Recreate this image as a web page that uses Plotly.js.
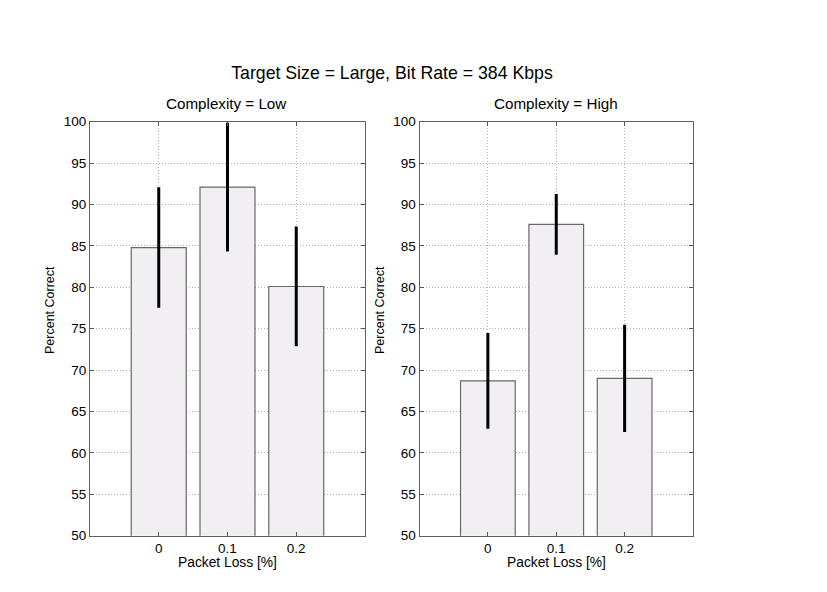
<!DOCTYPE html>
<html>
<head>
<meta charset="utf-8">
<script src="https://cdn.plot.ly/plotly-3.0.1.min.js"></script>
<style>
  html, body { margin: 0; padding: 0; background: #ffffff; }
  #chart { width: 827px; height: 592px; }
</style>
</head>
<body>
<div id="chart"></div>
<script>
// Packet loss levels (x categories) shared by both panels
const packetLoss = [0, 0.1, 0.2];
const packetLossLabels = ["0", "0.1", "0.2"];

// Complexity = Low
const lowMean = [84.8, 92.1, 80.1];
const lowErr = [7.1, 7.6, 7.05];

// Complexity = High
const highMean = [68.7, 87.6, 69.0];
const highErr = [5.6, 3.5, 6.3];

const yTicks = [50, 55, 60, 65, 70, 75, 80, 85, 90, 95, 100];

const barFill = "#f1eff1";
const barLine = "#686868";
const fontFamily = "Liberation Sans, Arial, sans-serif";
const tickSize = 13.5;
const gridStyle = { showgrid: true, gridcolor: "#b4b4b4", griddash: "1px,2px", gridwidth: 1 };

function barTrace(means, errs, xa, ya) {
  return {
    type: "bar",
    x: packetLoss,
    y: means,
    width: 0.08,
    base: 0,
    xaxis: xa,
    yaxis: ya,
    marker: { color: barFill, line: { color: barLine, width: 1.2 } },
    error_y: { type: "data", array: errs, visible: true, color: "#000000", thickness: 3, width: 1.5 },
    hoverinfo: "skip",
    showlegend: false
  };
}

function xAxis(domain, anchor) {
  return Object.assign({
    domain: domain,
    anchor: anchor,
    range: [-0.1, 0.3],
    tickvals: packetLoss,
    ticktext: packetLossLabels,
    ticks: "inside",
    ticklen: 4,
    tickcolor: "#555555",
    ticklabelstandoff: 0,
    showline: true,
    linecolor: "#606060",
    linewidth: 1,
    mirror: "ticks",
    zeroline: false,
    tickfont: { family: fontFamily, size: tickSize, color: "#000000" },
    fixedrange: true
  }, gridStyle);
}

function yAxis(domain, anchor) {
  return Object.assign({
    domain: domain,
    anchor: anchor,
    range: [50, 100],
    tickvals: yTicks,
    ticks: "inside",
    ticklen: 4,
    tickcolor: "#555555",
    showline: true,
    linecolor: "#606060",
    linewidth: 1,
    mirror: "ticks",
    zeroline: false,
    tickfont: { family: fontFamily, size: tickSize, color: "#000000" },
    fixedrange: true
  }, gridStyle);
}

const yDomain = [0.0951, 0.7944];

const data = [
  barTrace(lowMean, lowErr, "x", "y"),
  barTrace(highMean, highErr, "x2", "y2")
];

function label(text, xPx, yPx, size, angle) {
  return {
    text: text,
    xref: "paper", yref: "paper",
    x: xPx / 827, y: 1 - yPx / 592,
    xanchor: "center", yanchor: "middle",
    showarrow: false,
    textangle: angle || 0,
    font: { family: fontFamily, size: size, color: "#000000" }
  };
}

const layout = {
  width: 827,
  height: 592,
  margin: { l: 0, r: 0, t: 0, b: 0 },
  paper_bgcolor: "#ffffff",
  plot_bgcolor: "#ffffff",
  showlegend: false,
  font: { family: fontFamily, color: "#000000" },
  title: {
    text: "Target Size = Large, Bit Rate = 384 Kbps",
    font: { family: fontFamily, size: 17.7, color: "#000000" },
    x: 392 / 827,
    xanchor: "center",
    y: 1 - 73 / 592,
    yanchor: "middle"
  },
  xaxis: xAxis([90 / 827, 365 / 827], "y"),
  yaxis: yAxis(yDomain, "x"),
  xaxis2: xAxis([419.5 / 827, 693 / 827], "y2"),
  yaxis2: yAxis(yDomain, "x2"),
  annotations: [
    label("Complexity = Low", 226, 103, 15.2),
    label("Complexity = High", 556, 103, 15.2),
    label("Packet Loss [%]", 227, 562, 13.8),
    label("Packet Loss [%]", 556, 562, 13.8),
    label("Percent Correct", 50, 310, 12.5, -90),
    label("Percent Correct", 380, 310, 12.5, -90)
  ]
};

Plotly.newPlot("chart", data, layout, { displayModeBar: false, staticPlot: true });
</script>
</body>
</html>
